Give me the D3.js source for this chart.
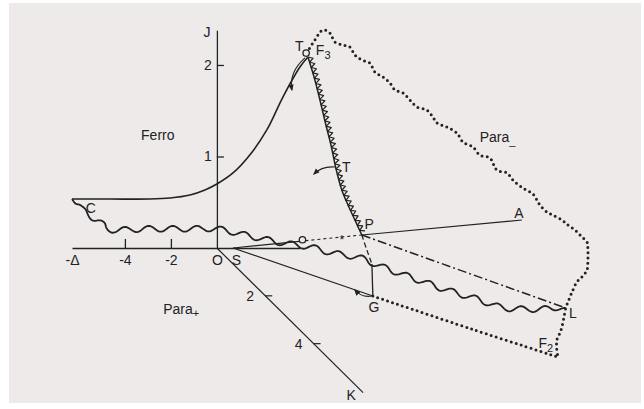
<!DOCTYPE html>
<html>
<head>
<meta charset="utf-8">
<script src="https://cdn.jsdelivr.net/npm/d3@7"></script>
<style>
body { margin: 0; background: #fff; }
text { font-family: "Liberation Sans", Arial, sans-serif; font-size: 14px; fill: #222; }
</style>
</head>
<body>
<svg id="chart" width="644" height="409"></svg>
<script>
// values, in diagram units (u along the Δ axis, J upward)
var xTickVals = [-6.3, -4, -2, 0, 0.83];
var xTickText = ["-Δ", "-4", "-2", "O", "S"];
var jTickVals = [1, 2];
var kTickVals = [2, 4];

var ferroCurve = [[-6.30,0.535],[-4.65,0.535],[-2.91,0.535],[-2.04,0.546],[-1.17,0.579],[-0.52,0.634],
  [0,0.699],[0.70,0.820],[1.43,1.016],[2.17,1.290],[2.87,1.650],[3.61,1.978],[3.96,2.087]];
var tLine = [[3.96,2.087],[4.26,1.836],[4.48,1.617],[4.74,1.344],[4.96,1.126],[5.17,0.874],
  [5.43,0.634],[5.70,0.470],[6.00,0.306],[6.30,0.142]];
var pgDashed = [[6.30,0.142],[6.52,-0.022],[6.74,-0.175]];
var gStem = [[6.74,-0.175],[6.78,-0.525]];
var waveLine = [[-6.30,0.535],[-5.96,0.492],[-5.78,0.393],[-5.43,0.339],[-5.09,0.295],[-4.83,0.215],
  [-3,0.21],[-1,0.21],[0,0.208],[1.43,0.131],[2.87,0.055],[4.04,0.011],[5.04,-0.055],[6.22,-0.109],
  [7.09,-0.197],[8.52,-0.328],[10.0,-0.459],[11.43,-0.568],[12.30,-0.645],[13.17,-0.667],[14.04,-0.667],[15.17,-0.656]];
var paraMinus = [[3.91,2.131],[4.26,2.273],[4.61,2.383],[4.91,2.350],[5.13,2.251],[5.48,2.219],[5.78,2.197],
  [6.00,2.109],[6.30,2.055],[6.65,2.022],[6.87,1.923],[7.22,1.869],[7.52,1.803],[7.74,1.727],[8.09,1.694],
  [8.39,1.617],[8.70,1.541],[9.13,1.508],[9.39,1.432],[9.57,1.366],[10.0,1.322],[10.43,1.257],[10.70,1.158],
  [11.13,1.104],[11.43,1.016],[11.87,0.984],[12.17,0.852],[12.61,0.820],[12.87,0.743],[13.30,0.656],
  [13.74,0.590],[14.04,0.470],[14.35,0.393],[14.61,0.361],[15.0,0.306],[15.26,0.251],[15.57,0.197],
  [15.87,0.120],[16.09,0.066],[16.13,-0.022],[16.13,-0.131],[16.09,-0.240],[15.87,-0.317],[15.65,-0.372],
  [15.48,-0.459],[15.35,-0.536],[15.17,-0.656],[15.09,-0.754],[15.0,-0.863],[14.91,-0.929],[14.78,-1.005],
  [14.78,-1.115],[14.83,-1.191]];
var paraBottom = [[6.78,-0.525],[11.13,-0.890],[14.83,-1.191]];
var sToO = [[0.70,0],[3.58,0.072]];
var oToP = [[3.85,0.080],[6.30,0.142]];
var pToA = [[6.30,0.142],[13.26,0.306]];
var sToG = [[0.70,0],[6.78,-0.525]];
var pToL = [[6.30,0.142],[15.17,-0.656]];
var circleT0 = [3.88, 2.13];
var circleO = [3.72, 0.09];
var starP = [5.43, 0.12];
var arrows = [
  [[3.83,2.077],[3.13,1.923],[3.26,1.727]],
  [[5.13,0.885],[4.57,0.896],[4.22,0.809]],
  [[6.74,-0.525],[6.30,-0.546],[6.00,-0.459]]
];
var labels = [
  [-2.57, 1.235, "Ferro", ""], [12.2, 1.213, "Para", "_"], [-1.55, -0.667, "Para", "+"],
  [-0.43, 2.36, "J", ""], [5.62, 0.885, "T", ""], [6.62, 0.26, "P", ""], [13.13, 0.383, "A", ""],
  [-5.48, 0.437, "C", ""], [6.83, -0.645, "G", ""], [15.48, -0.71, "L", ""], [14.3, -1.04, "F", "2"],
  [3.58, 2.21, "T", ""], [4.62, 2.16, "F", "3"]
];

var svg = d3.select("#chart");
var ink = "#222";

svg.append("rect").attr("x", 9).attr("y", 3).attr("width", 632).attr("height", 400).attr("fill", "#eeeaea");

var x = d3.scaleLinear().domain([-6.3, 3.6]).range([72, 299.7]);
var y = d3.scaleLinear().domain([0, 2.38]).range([248, 30.2]);
var line = d3.line().x(function (d) { return x(d[0]); }).y(function (d) { return y(d[1]); });
var smooth = d3.line().x(function (d) { return x(d[0]); }).y(function (d) { return y(d[1]); }).curve(d3.curveCatmullRom);

svg.append("defs").append("marker")
  .attr("id", "head").attr("viewBox", "0 0 10 10").attr("refX", 8).attr("refY", 5)
  .attr("markerWidth", 6).attr("markerHeight", 6).attr("orient", "auto-start-reverse")
  .append("path").attr("d", "M0,1L10,5L0,9z").attr("fill", ink);

// axes
var xAxis = svg.append("g").attr("transform", "translate(0," + y(0) + ")")
  .call(d3.axisBottom(x).tickValues(xTickVals).tickSize(-9).tickSizeOuter(0).tickPadding(7)
    .tickFormat(function (d, i) { return xTickText[i]; }));
var yAxis = svg.append("g").attr("transform", "translate(" + x(0) + ",0)")
  .call(d3.axisLeft(y).tickValues(jTickVals).tickSize(-7).tickSizeOuter(0).tickPadding(5)
    .tickFormat(d3.format("d")));
[xAxis, yAxis].forEach(function (g) {
  g.attr("color", ink).attr("font-size", null).attr("font-family", null);
  g.selectAll("path, line").attr("stroke-width", 1.3);
  g.selectAll("text").attr("fill", ink);
});
xAxis.selectAll(".tick").filter(function (d) { return d < -6 || d >= 0; }).select("line").remove();

// K axis (oblique)
var kAngle = 44.7 * Math.PI / 180;
var kScale = d3.scaleLinear().domain([0, 6]).range([0, 204]);
function kPt(k) { var d = kScale(k); return [x(0) + d * Math.cos(kAngle), y(0) + d * Math.sin(kAngle)]; }
var k0 = kPt(0), k1 = kPt(6.05);
svg.append("line").attr("x1", k0[0]).attr("y1", k0[1]).attr("x2", k1[0]).attr("y2", k1[1])
  .attr("stroke", ink).attr("stroke-width", 1.2);
kTickVals.forEach(function (k) {
  var p = kPt(k);
  svg.append("line").attr("x1", p[0]).attr("y1", p[1]).attr("x2", p[0] + 7).attr("y2", p[1])
    .attr("stroke", ink).attr("stroke-width", 1.2);
  svg.append("text").attr("x", p[0] - 15).attr("y", p[1]).attr("dy", ".35em").attr("text-anchor", "middle").text(k);
});
svg.append("text").attr("x", k1[0] - 12).attr("y", k1[1] + 2).attr("dy", ".35em").attr("text-anchor", "middle").text("K");

function draw(pts, opts) {
  return svg.append("path").attr("d", (opts.curve ? smooth : line)(pts)).attr("fill", "none")
    .attr("stroke", ink).attr("stroke-width", opts.w || 1.3)
    .attr("stroke-dasharray", opts.dash || null).attr("stroke-linecap", opts.cap || "butt");
}

function sample(pts, step, fn) {
  var tmp = svg.append("path").attr("d", smooth(pts)).attr("fill", "none");
  var node = tmp.node(), len = node.getTotalLength(), out = [];
  for (var s = 0; s <= len; s += step) {
    var p = node.getPointAtLength(s);
    var a = node.getPointAtLength(Math.min(len, s + 0.5)), b = node.getPointAtLength(Math.max(0, s - 0.5));
    var dx = a.x - b.x, dy = a.y - b.y, n = Math.hypot(dx, dy) || 1;
    fn(out, p, dx / n, dy / n, s, len);
  }
  tmp.remove();
  return out;
}

// straight pieces
draw(sToO, { w: 1.2 });
draw(oToP, { w: 1.1, dash: "3,3" });
draw(pToA, { w: 1.2 });
draw(sToG, { w: 1.2 });
draw(pToL, { w: 1.5, dash: "9,3,2,3" });
draw(pgDashed, { w: 1.3, dash: "5,3", curve: true });
draw(gStem, { w: 1.3 });

// ferro boundary
draw(ferroCurve, { w: 1.6, curve: true });

// scalloped T line
draw(tLine, { w: 1.5, curve: true });
var teeth = sample(tLine, 5.5, function (out, p, tx, ty) {
  out.push([p.x, p.y]);
  out.push([p.x + 2.7 * tx + 4.6 * ty, p.y + 2.7 * ty - 4.6 * tx]);
});
svg.append("path").attr("d", d3.line()(teeth)).attr("fill", "none").attr("stroke", ink)
  .attr("stroke-width", 1.2).attr("stroke-linejoin", "round");

// wavy line C ... L
var wave = sample(waveLine, 1, function (out, p, tx, ty, s, len) {
  var a = 2.9 * Math.sin(2 * Math.PI * s / 24) * Math.min(1, (len - s) / 14);
  out.push([p.x - ty * a, p.y + tx * a]);
});
svg.append("path").attr("d", d3.line()(wave)).attr("fill", "none").attr("stroke", ink).attr("stroke-width", 1.8);

// dotted boundaries
draw(paraMinus, { w: 3, dash: "0,5.2", cap: "round", curve: true });
draw(paraBottom, { w: 3, dash: "0,5.2", cap: "round", curve: true });

// small arrows
arrows.forEach(function (a) {
  svg.append("path").attr("d", "M" + x(a[0][0]) + "," + y(a[0][1]) + "Q" + x(a[1][0]) + "," + y(a[1][1]) + " " + x(a[2][0]) + "," + y(a[2][1]))
    .attr("fill", "none").attr("stroke", ink).attr("stroke-width", 1.1).attr("marker-end", "url(#head)");
});

// markers
[circleT0, circleO].forEach(function (c) {
  svg.append("circle").attr("cx", x(c[0])).attr("cy", y(c[1])).attr("r", 3.2)
    .attr("fill", "#eeeaea").attr("stroke", ink).attr("stroke-width", 1.3);
});
svg.append("text").attr("x", x(starP[0])).attr("y", y(starP[1])).attr("dy", ".55em").attr("text-anchor", "middle")
  .style("font-size", "12px").text("*");

// labels
labels.forEach(function (l) {
  var t = svg.append("text").attr("x", x(l[0])).attr("y", y(l[1])).attr("dy", ".36em").attr("text-anchor", "middle").text(l[2]);
  if (l[3]) t.append("tspan").attr("dy", "0.3em").style("font-size", "11px").text(l[3]);
});
</script>
</body>
</html>
